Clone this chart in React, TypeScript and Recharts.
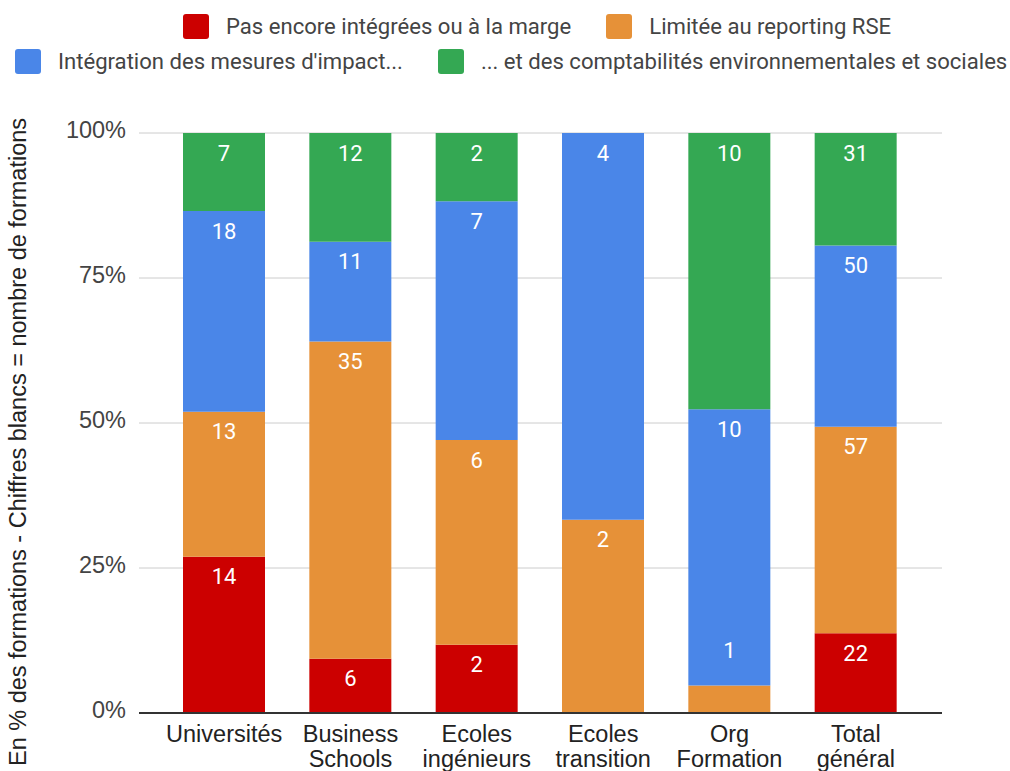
import React from 'react'
import { BarChart, Bar, XAxis, YAxis, CartesianGrid, LabelList } from 'recharts'

const categories = [
  'Universités',
  'Business\nSchools',
  'Ecoles\ningénieurs',
  'Ecoles\ntransition',
  'Org\nFormation',
  'Total\ngénéral',
]

// nombre de formations par catégorie
const pasEncore = [14, 6, 2, 0, 0, 22]
const limitee = [13, 35, 6, 2, 1, 57]
const integration = [18, 11, 7, 4, 10, 50]
const comptabilites = [7, 12, 2, 0, 10, 31]

const yTicks = [0, 0.25, 0.5, 0.75, 1]

const SERIES = [
  { key: 'pasEncore', name: 'Pas encore intégrées ou à la marge', color: '#cc0000' },
  { key: 'limitee', name: 'Limitée au reporting RSE', color: '#e69138' },
  { key: 'integration', name: "Intégration des mesures d'impact...", color: '#4a86e8' },
  { key: 'comptabilites', name: '... et des comptabilités environnementales et sociales', color: '#34a853' },
]

const data = categories.map((c, i) => ({
  name: c,
  pasEncore: pasEncore[i],
  limitee: limitee[i],
  integration: integration[i],
  comptabilites: comptabilites[i],
}))

const AXIS_FONT = '"Liberation Sans", Arial, sans-serif'
const AXIS_SIZE = 23.5

const renderCount = (props: any) => {
  const { x, y, width, height, value } = props
  if (!value) return null
  // Google places the number near the top of the segment; tiny segments get it above
  const cy = height < 30 ? y - 35 : y + 20
  return (
    <text
      x={x + width / 2}
      y={cy}
      textAnchor="middle"
      dominantBaseline="central"
      fill="#fff"
      fontSize={22}
      fontFamily="Roboto, sans-serif"
    >
      {value}
    </text>
  )
}

const CategoryTick = (props: any) => {
  const { x, y, payload } = props
  const lines = String(payload.value).split('\n')
  return (
    <text textAnchor="middle" fill="#222" fontSize={AXIS_SIZE} fontFamily={AXIS_FONT}>
      {lines.map((l, i) => (
        <tspan key={i} x={x} y={y + 29 + i * 25}>{l}</tspan>
      ))}
    </text>
  )
}

const LegendItem = ({ name, color }: { name: string; color: string }) => (
  <div style={{ display: 'flex', alignItems: 'center', marginRight: 35 }}>
    <div style={{ width: 26, height: 25, borderRadius: 3, background: color, marginRight: 17 }} />
    <span style={{ whiteSpace: 'nowrap' }}>{name}</span>
  </div>
)

export default function App() {
  return (
    <div style={{ position: 'absolute', left: 0, top: 0, width: 1010, height: 771, background: '#fff' }}>
      <div
        style={{
          position: 'absolute', left: 0, top: 0, width: 1010,
          fontFamily: 'Roboto, sans-serif', fontSize: 22.1, color: '#444',
        }}
      >
        <div style={{ position: 'absolute', left: 183, top: 13, display: 'flex' }}>
          <LegendItem name={SERIES[0].name} color={SERIES[0].color} />
          <LegendItem name={SERIES[1].name} color={SERIES[1].color} />
        </div>
        <div style={{ position: 'absolute', left: 15, top: 48, display: 'flex' }}>
          <LegendItem name={SERIES[2].name} color={SERIES[2].color} />
          <LegendItem name={SERIES[3].name} color={SERIES[3].color} />
        </div>
      </div>
      <BarChart
        width={1010}
        height={771}
        data={data}
        stackOffset="expand"
        margin={{ top: 133, right: 68, bottom: 28, left: 0 }}
        style={{ position: 'absolute', left: 0, top: 0 }}
      >
        <CartesianGrid vertical={false} stroke="#cccccc" />
        <XAxis
          dataKey="name"
          height={30}
          interval={0}
          tickLine={false}
          tickSize={0}
          tickMargin={0}
          padding={{ left: 22, right: 23 }}
          axisLine={{ stroke: '#333', strokeWidth: 2 }}
          tick={<CategoryTick />}
        />
        <YAxis
          width={139}
          ticks={yTicks}
          domain={[0, 1]}
          axisLine={false}
          tickLine={false}
          tickSize={0}
          tickMargin={13}
          tickFormatter={(v: number) => `${Math.round(v * 100)}%`}
          tick={{ fill: '#444', fontSize: AXIS_SIZE, fontFamily: AXIS_FONT, dy: -3 }}
          label={{
            value: 'En % des formations - Chiffres blancs = nombre de formations',
            angle: -90,
            position: 'insideLeft',
            content: () => (
              <text
                x={26}
                y={442}
                transform="rotate(-90 26 442)"
                textAnchor="middle"
                fill="#222"
                fontSize={AXIS_SIZE}
                fontFamily={AXIS_FONT}
              >
                En % des formations - Chiffres blancs = nombre de formations
              </text>
            ),
          }}
        />
        {SERIES.map(s => (
          <Bar key={s.key} dataKey={s.key} name={s.name} stackId="a" fill={s.color} barSize={82} isAnimationActive={false}>
            <LabelList dataKey={s.key} content={renderCount} />
          </Bar>
        ))}
      </BarChart>
    </div>
  )
}
